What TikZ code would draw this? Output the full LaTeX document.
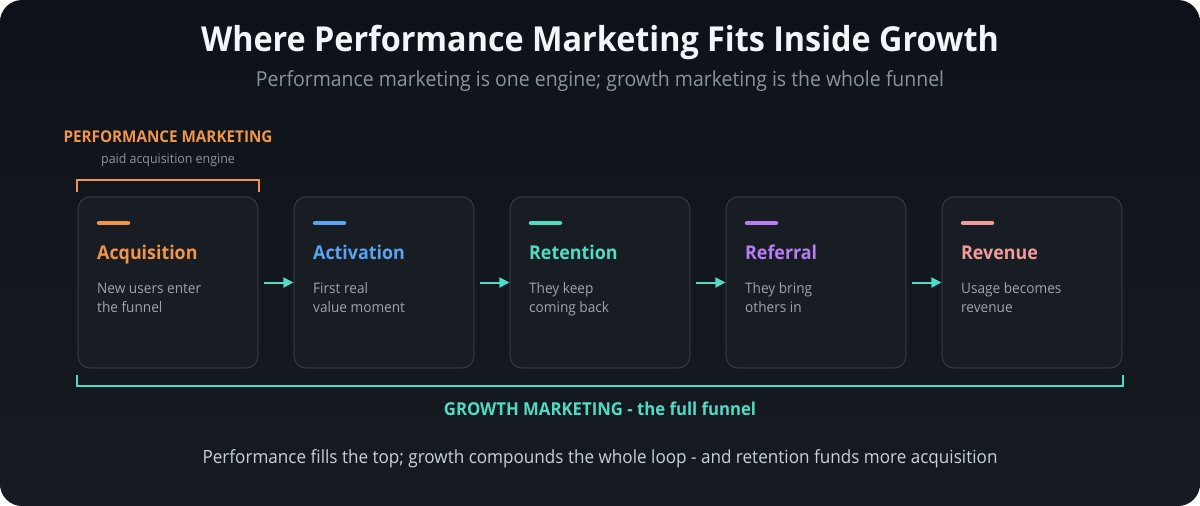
\documentclass[tikz,border=0pt]{standalone}
\usepackage{fontspec}
\setmainfont{Open Sans}[FakeStretch=0.94]
\usetikzlibrary{arrows.meta}
\definecolor{bgtop}{HTML}{0E1218}
\definecolor{bgbot}{HTML}{161B22}
\definecolor{cardfill}{HTML}{181C23}
\definecolor{cardline}{HTML}{30363D}
\definecolor{titlec}{HTML}{F2F5FA}
\definecolor{subc}{HTML}{8B949E}
\definecolor{descc}{HTML}{9DA5AE}
\definecolor{footc}{HTML}{C9D1D9}
\definecolor{cacq}{HTML}{F0954A}
\definecolor{cact}{HTML}{5AA3F2}
\definecolor{cret}{HTML}{4FDCC4}
\definecolor{cref}{HTML}{B67EF2}
\definecolor{crev}{HTML}{F29B9B}
\tikzset{
  card/.style={draw=cardline, line width=1.2pt, fill=cardfill, rounded corners=12pt, minimum width=180pt, minimum height=171pt, inner sep=0pt},
  colbar/.style={line width=4.5pt, line cap=round},
  cardtitle/.style={font=\bfseries\fontsize{19}{23}\selectfont, inner sep=0pt},
  desc/.style={font=\fontsize{14.5}{18}\selectfont, text=descc, inner sep=0pt},
  arr/.style={draw=cret, line width=2pt, -{Triangle[length=10pt,width=10pt]}},
  brack/.style={line width=2pt},
}
\begin{document}
\begin{tikzpicture}[x=1pt,y=-1pt]
\useasboundingbox (0,0) rectangle (1200,506);
\fill[white] (0,0) rectangle (1200,506);
\shade[top color=bgtop, bottom color=bgbot, rounded corners=22pt] (0,0) rectangle (1200,506);

\node[anchor=base, font=\bfseries\fontsize{34.4}{41}\selectfont, text=titlec, inner sep=0pt] (title) at (600,51.5) {Where Performance Marketing Fits Inside Growth};
\node[anchor=base, font=\fontsize{20.7}{25}\selectfont, text=subc, inner sep=0pt] (subtitle) at (600,86.5) {Performance marketing is one engine; growth marketing is the whole funnel};

\node[anchor=base, font=\bfseries\fontsize{16.2}{19}\selectfont, text=cacq, inner sep=0pt] (perf) at (168,142.5) {PERFORMANCE MARKETING};
\node[anchor=base, font=\fontsize{13.2}{16}\selectfont, text=subc, inner sep=0pt] (perfsub) at (168,163.5) {paid acquisition engine};

\foreach \i/\c/\t/\a/\b in {0/cacq/Acquisition/New users enter/the funnel,
                            1/cact/Activation/First real/value moment,
                            2/cret/Retention/They keep/coming back,
                            3/cref/Referral/They bring/others in,
                            4/crev/Revenue/Usage becomes/revenue}{
  \node[card] (card\i) at ({168+216*\i},282.5) {};
  \coordinate (bs\i) at ({99+216*\i},223);
  \draw[colbar, draw=\c] (bs\i) -- ++(29,0);
  \node[cardtitle, anchor=base west, text=\c] (ct\i) at ({97+216*\i},259.5) {\t};
  \node[desc, anchor=base west] (da\i) at ({97+216*\i},293.5) {\a};
  \node[desc, anchor=base west] (db\i) at ({97+216*\i},312.5) {\b};
}
\foreach \i/\j in {0/1,1/2,2/3,3/4}{
  \draw[arr] ([xshift=5pt]card\i.east) -- (card\j.west);
}

\draw[brack, draw=cacq] ([yshift=4pt]card0.north west) -- ([yshift=16pt]card0.north west) -- ([yshift=16pt]card0.north east) -- ([yshift=4pt]card0.north east);
\draw[brack, draw=cret] ([yshift=-6pt]card0.south west) -- ([yshift=-17.5pt]card0.south west) -- ([yshift=-17.5pt]card4.south east) -- ([yshift=-6pt]card4.south east);

\node[anchor=base, font=\bfseries\fontsize{17.8}{21}\selectfont, text=cret, inner sep=0pt] (growth) at (600,415.5) {GROWTH MARKETING - the full funnel};
\node[anchor=base, font=\fontsize{18.2}{22}\selectfont, text=footc, inner sep=0pt] (footer) at (600,463.5) {Performance fills the top; growth compounds the whole loop - and retention funds more acquisition};
\end{tikzpicture}
\end{document}
